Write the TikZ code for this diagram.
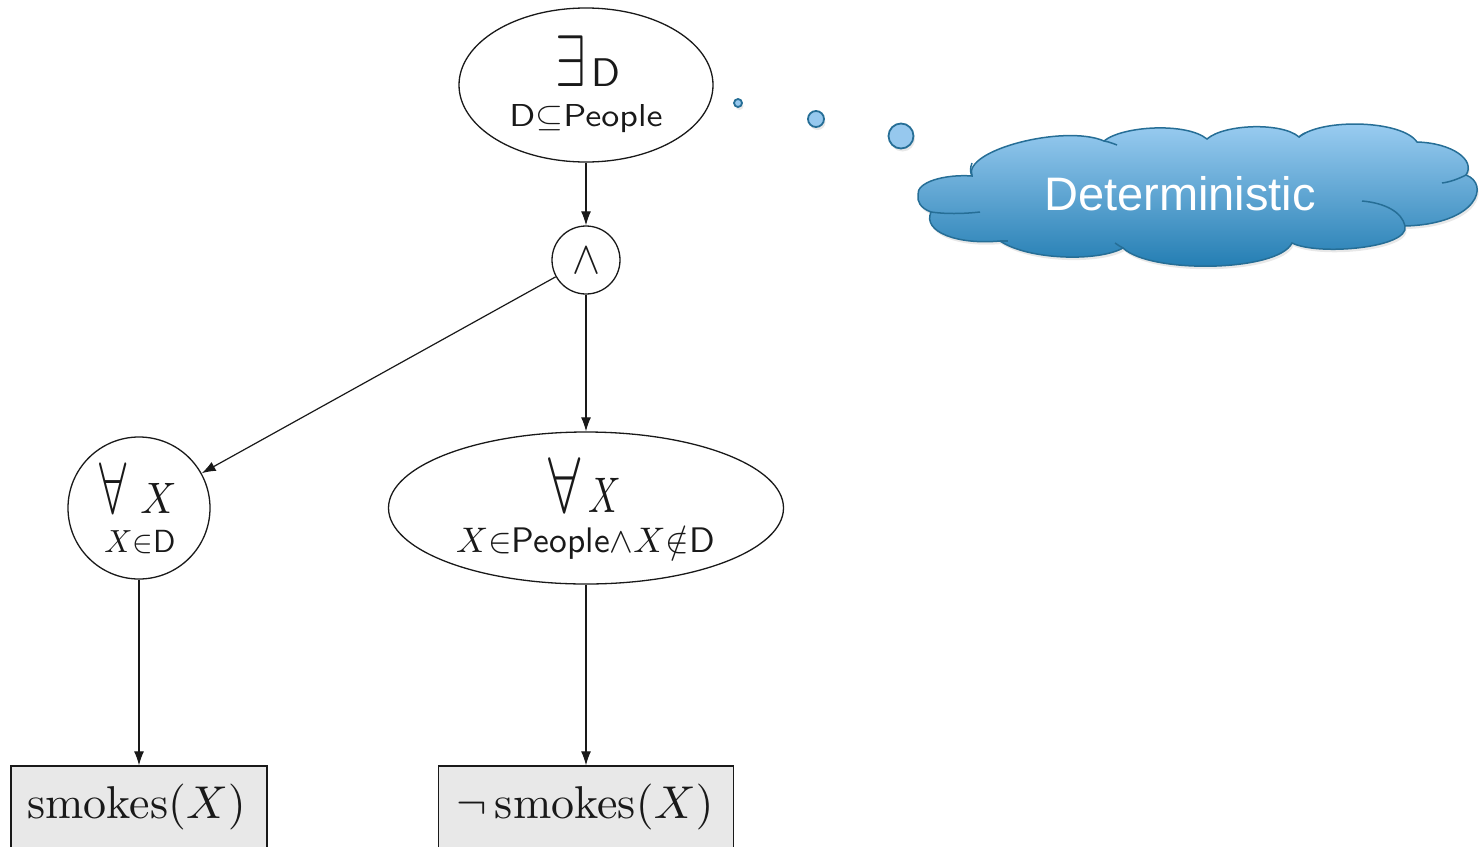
\documentclass[tikz,border=0pt]{standalone}
\usepackage{fontspec}
\usepackage{graphicx}
\usetikzlibrary{arrows.meta,shapes.geometric,shadows}
\newfontfamily\cloudfont{Liberation Sans}
\definecolor{ink}{RGB}{25,25,25}
\definecolor{boxgray}{RGB}{232,232,232}
\definecolor{cloudtop}{RGB}{158,207,243}
\definecolor{cloudbot}{RGB}{30,122,176}
\definecolor{cloudedge}{RGB}{38,110,150}
\definecolor{bubblefill}{RGB}{150,200,238}
% stretch a glyph group horizontally (#1) and vertically (#2)
\newcommand\sxy[3]{\scalebox{#1}[#2]{#3}}

\tikzset{
  shapeline/.style={draw=ink, line width=1.3pt, inner sep=0pt},
  ellnode/.style={shapeline, ellipse},
  circnode/.style={shapeline, circle},
  leafbox/.style={shapeline, rectangle, fill=boxgray},
  txt/.style={anchor=base, inner sep=0pt, text=ink},
  edge/.style={draw=ink, line width=1.2pt, -{Latex[length=14pt,width=10pt]}},
  softshadow/.style={drop shadow={opacity=0.18, shadow xshift=1.5pt, shadow yshift=-3pt}},
  bubble/.style={circle, draw=cloudedge, line width=1.8pt, fill=bubblefill, inner sep=0pt, softshadow},
  cloudbody/.style={draw=cloudedge, line width=1.5pt, top color=cloudtop, bottom color=cloudbot, softshadow},
  cloudcrease/.style={draw=cloudedge, line width=1.5pt},
}

\begin{document}
\begin{tikzpicture}[x=1pt,y=-1pt]
\useasboundingbox (0,0) rectangle (1482,846);
\clip (0,0) rectangle (1482,846);

% circuit nodes
\node[ellnode, minimum width=254pt, minimum height=154pt] (ex) at (586,85) {};
\node[circnode, minimum size=68pt] (and) at (586,260) {};
\node[circnode, minimum size=142pt] (fx) at (139,508) {};
\node[ellnode, minimum width=395pt, minimum height=152pt] (fpe) at (586,508) {};
\node[leafbox, minimum width=256pt, minimum height=100pt] (lb) at (139,816) {};
\node[leafbox, minimum width=295pt, minimum height=100pt] (rb) at (586,816) {};

% node labels
\node[txt] (ex1) at (588,86) {\sxy{5.5}{7.3}{$\exists$}\hspace{6pt}\sxy{4}{4}{\textsf{D}}};
\node[txt] (ex2) at (586,126) {\sxy{3.6}{3.17}{\textsf{D}$\subseteq$\textsf{People}}};
\node[txt] (and1) at (586,273) {\sxy{4.2}{4.6}{$\wedge$}};
\node[txt] (fx1) at (138,513) {\sxy{4.9}{7.3}{$\forall$}\hspace{14pt}\sxy{4}{4.4}{$X$}};
\node[txt] (fx2) at (140,552) {\sxy{3.1}{3.2}{$X{\in}$\textsf{D}}};
\node[txt] (fpe1) at (585,512) {\sxy{5.8}{7.9}{$\forall$}\hspace{8pt}\sxy{3.6}{5}{$X$}};
\node[txt] (fpe2) at (585.5,552) {\sxy{3.55}{3.55}{$X{\in}$\textsf{People}$\wedge X{\notin}$\textsf{D}}};
\node[txt] (lb1) at (136.5,818) {\sxy{4.6}{4.6}{smokes$(X)$}};
\node[txt] (rb1) at (585,818) {\sxy{4.6}{4.6}{$\neg$\,smokes$(X)$}};

% connectors
\draw[edge] (ex) -- (and);
\draw[edge] (and) -- (fx);
\draw[edge] (and) -- (fpe);
\draw[edge] (fx) -- (lb);
\draw[edge] (fpe) -- (rb);

% thought bubbles
\node[bubble, minimum size=8pt] (b1) at (738,103) {};
\node[bubble, minimum size=16pt] (b2) at (816,119) {};
\node[bubble, minimum size=25pt] (b3) at (901,136) {};

% cloud outline, lobe by lobe
\path[cloudbody]
  (918,195)
  .. controls (916,182) and (945,174) .. (972,176)
  .. controls (962,150) and (1065,124) .. (1104,141)
  .. controls (1122,126) and (1186,122) .. (1207,139)
  .. controls (1224,124) and (1282,122) .. (1299,137)
  .. controls (1322,118) and (1402,120) .. (1417,142)
  .. controls (1452,143) and (1476,160) .. (1466,175)
  .. controls (1490,184) and (1478,224) .. (1405,226)
  .. controls (1410,248) and (1318,256) .. (1292,243)
  .. controls (1278,272) and (1150,274) .. (1123,248)
  .. controls (1098,262) and (1028,260) .. (1000,241)
  .. controls (958,245) and (922,232) .. (931,212)
  .. controls (920,208) and (917,201) .. (918,195)
  -- cycle;
% inner creases where lobes overlap
\draw[cloudcrease] (931,212) .. controls (945,214) and (962,214) .. (980,212);
\draw[cloudcrease] (972,176) .. controls (970,172) and (970,168) .. (972,163);
\draw[cloudcrease] (1104,141) .. controls (1110,142) and (1114,144) .. (1117,145);
\draw[cloudcrease] (1299,137) .. controls (1301,135) and (1303,134) .. (1305,133);
\draw[cloudcrease] (1466,175) .. controls (1458,179) and (1450,182) .. (1442,183);
\draw[cloudcrease] (1362,201) .. controls (1385,203) and (1402,212) .. (1405,226);
\draw[cloudcrease] (1000,241) .. controls (1003,241) and (1006,241) .. (1008,241);
\draw[cloudcrease] (1123,248) .. controls (1120,246) and (1117,245) .. (1115,243);

\node[anchor=base, inner sep=0pt, text=white] (det) at (1180,210)
  {\cloudfont\fontsize{47}{52}\selectfont Deterministic};
\end{tikzpicture}
\end{document}
